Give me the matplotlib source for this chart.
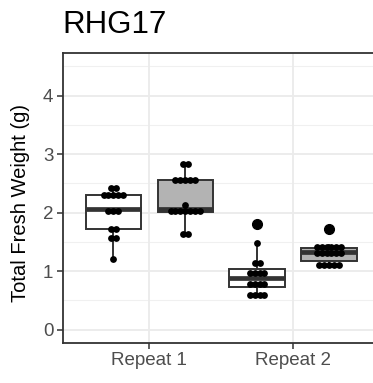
import numpy as np
import matplotlib
matplotlib.use('Agg')
import matplotlib.pyplot as plt

# data
categories = ['Repeat 1', 'Repeat 2']
title = 'RHG17'
ylabel = 'Total Fresh Weight (g)'
yticks = [0, 1, 2, 3, 4]

white_r1 = [1.21, 1.55, 1.59, 1.70, 1.75, 2.00, 2.04, 2.07, 2.26, 2.28, 2.30, 2.31, 2.33, 2.40, 2.43]
grey_r1 = [1.63, 1.65, 1.995, 2.00, 2.01, 2.02, 2.04, 2.05, 2.065, 2.13,
           2.53, 2.55, 2.56, 2.57, 2.59, 2.82, 2.84]
white_r2 = [0.56, 0.58, 0.60, 0.63, 0.75, 0.78, 0.81, 0.82, 0.93, 0.95, 0.97, 1.00,
            1.13, 1.16, 1.48, 1.81]
grey_r2 = [1.075, 1.09, 1.11, 1.13, 1.15, 1.27, 1.29, 1.31, 1.32, 1.33, 1.34,
           1.37, 1.38, 1.39, 1.41, 1.43, 1.44, 1.715]

groups = [white_r1, grey_r1, white_r2, grey_r2]
fills = ['white', '#B3B3B3', 'white', '#B3B3B3']
cat_idx = [0, 0, 1, 1]
dodge = [-0.25, 0.25, -0.25, 0.25]


def dot_bins(vals, bw):
    # ggplot-style dotdensity binning
    vals = sorted(vals)
    bins = []
    start = None
    for v in vals:
        if start is None or v >= start + bw:
            bins.append([v])
            start = v
        else:
            bins[-1].append(v)
    return [((min(b) + max(b)) / 2, len(b)) for b in bins]


fig = plt.figure(figsize=(3.73, 3.83), dpi=100)
ax = fig.add_axes([63 / 373, 1 - 342.7 / 383, 316.3 / 373, 289.4 / 383])

ax.set_xlim(0.4, 2.6)
ax.set_ylim(-0.225, 4.725)

for y in np.arange(0.5, 5, 1.0):
    ax.axhline(y, color='#F0F0F0', lw=0.8, zorder=0)
for y in yticks:
    ax.axhline(y, color='#EBEBEB', lw=1.3, zorder=0)
for x in range(1, len(categories) + 1):
    ax.axvline(x, color='#EBEBEB', lw=1.3, zorder=0)

positions = [c + 1 + d for c, d in zip(cat_idx, dodge)]
bp = ax.boxplot(groups, positions=positions, widths=0.385, patch_artist=True,
                showcaps=False, whis=1.5,
                boxprops=dict(edgecolor='#333333', linewidth=1.4),
                whiskerprops=dict(color='#333333', linewidth=1.4),
                medianprops=dict(color='#333333', linewidth=3.4),
                flierprops=dict(marker='o', markerfacecolor='black', markeredgecolor='black',
                                markersize=7),
                zorder=2)
for patch, fc in zip(bp['boxes'], fills):
    patch.set_facecolor(fc)

allv = np.concatenate(groups)
bw = (allv.max() - allv.min()) / 30
step = 0.034  # horizontal dot spacing in x units
for vals, pos in zip(groups, positions):
    for yc, n in dot_bins(vals, bw):
        xs = pos + (np.arange(n) - (n - 1) / 2) * step
        ax.scatter(xs, [yc] * n, s=24, color='black', linewidths=0, zorder=3)

ax.set_xticks([1, 2])
ax.set_xticklabels(categories)
ax.set_yticks(yticks)
ax.tick_params(axis='both', labelsize=13.5, labelcolor='#4D4D4D', color='#333333',
               length=4, width=1.1, pad=3)
ax.set_ylabel(ylabel, fontsize=14.5, color='black')
ax.yaxis.set_label_coords(-0.105, 0.482)
for s in ax.spines.values():
    s.set_color('#333333')
    s.set_linewidth(1.3)

for t in ax.get_xticklabels() + ax.get_yticklabels():
    t.set_family(['Liberation Sans', 'DejaVu Sans'])
ax.yaxis.label.set_family(['Liberation Sans', 'DejaVu Sans'])

fig.text(62 / 373, 1 - 33 / 383, title, fontsize=22.5, family=['Liberation Sans', 'DejaVu Sans'],
         va='baseline', ha='left')

plt.savefig('out.png', dpi=100)
plt.close()
